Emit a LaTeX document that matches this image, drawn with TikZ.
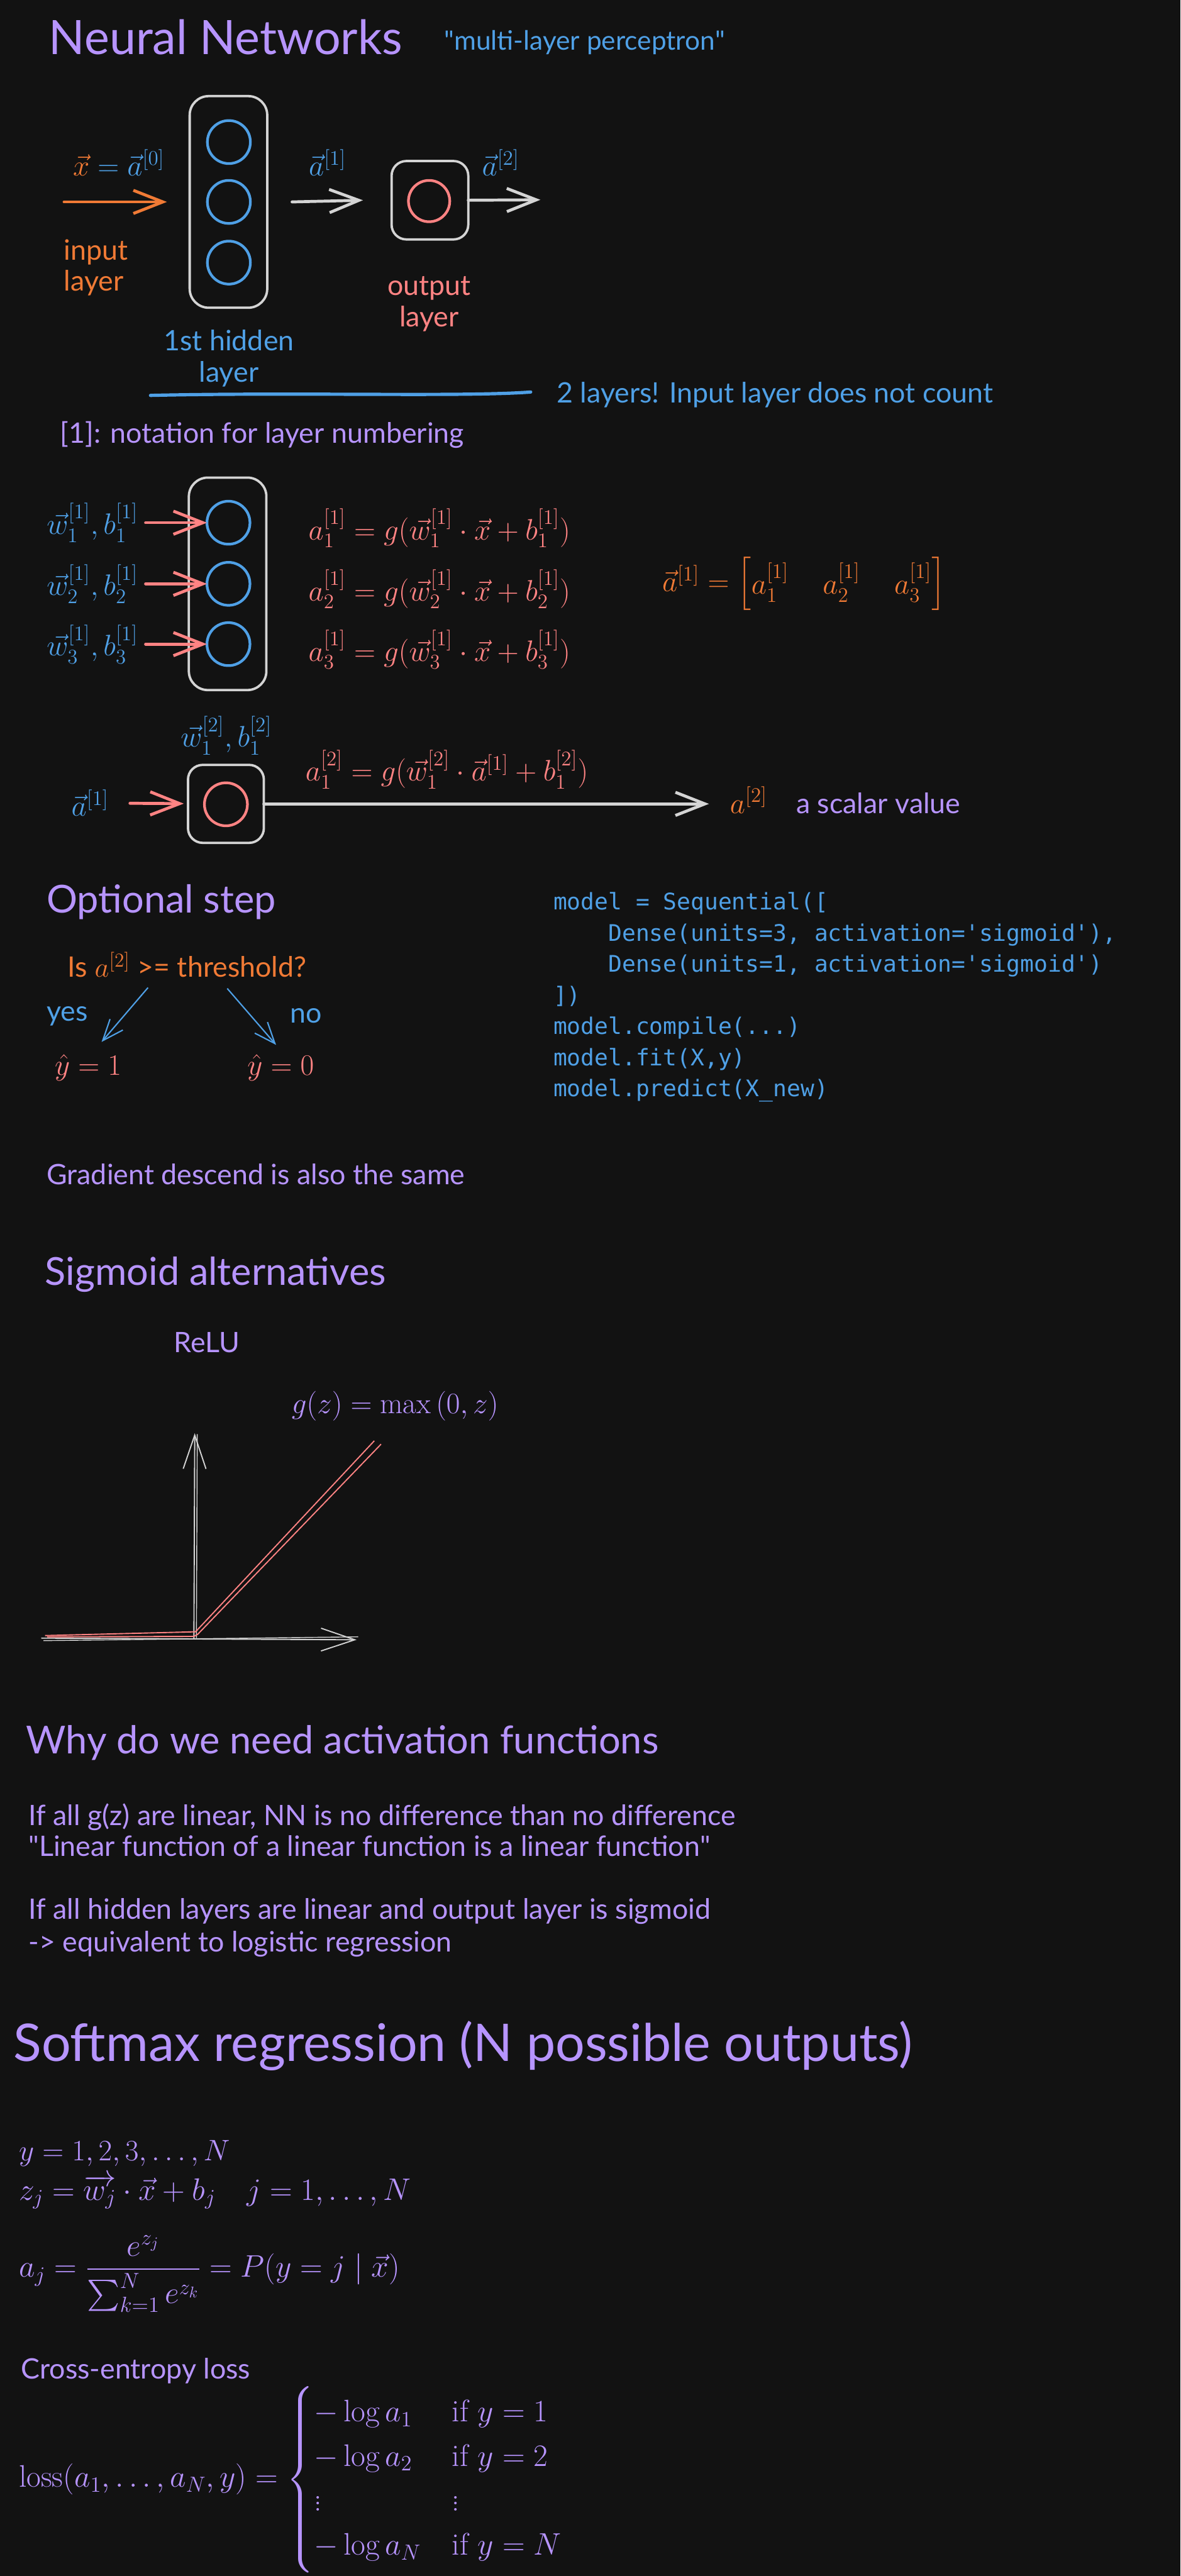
\RequirePackage{fix-cm}
\documentclass[tikz,border=0pt]{standalone}
\usepackage{amsmath, amssymb}
\usepackage{fontspec}
\setsansfont{Lato}
\setmonofont{DejaVu Sans Mono}
\usepackage{xcolor}
\usepackage{tikz}
\usetikzlibrary{arrows.meta, positioning}

\definecolor{bgdark}{HTML}{121212}
\definecolor{lav}{HTML}{B794FF}
\definecolor{sky}{HTML}{4FA0E6}
\definecolor{tang}{HTML}{F07A35}
\definecolor{salmon}{HTML}{FF8383}
\definecolor{chalk}{HTML}{D4D4D4}

\begin{document}
\begin{tikzpicture}[
  every node/.style={inner sep=0pt, outer sep=0pt},
  ttl/.style={font=\sffamily\fontsize{32}{38}\selectfont, text=lav, anchor=west},
  sec/.style={font=\sffamily\fontsize{26}{31}\selectfont, text=lav, anchor=west},
  txt/.style={font=\sffamily\fontsize{19}{21}\selectfont, anchor=west},
  mth/.style={font=\fontsize{20}{24}\selectfont, anchor=west},
  bigmth/.style={font=\fontsize{21}{25}\selectfont, anchor=west, text=lav},
  code/.style={font=\ttfamily\fontsize{15.4}{21}\selectfont, text=sky, anchor=north west, align=left},
  layerbox/.style={draw=chalk, line width=1.6pt, rounded corners=0.45cm, minimum width=1.84cm},
  neuron/.style={circle, draw=#1, line width=1.8pt, minimum size=1.02cm},
  arr/.style={-{Straight Barb[length=0.7cm, width=0.55cm]}, line width=2pt, line cap=round},
  thinarr/.style={-{Straight Barb[length=0.5cm, width=0.4cm]}, line width=0.9pt, sky},
  axis/.style={-{Straight Barb[length=0.8cm, width=0.54cm]}, line width=0.8pt, chalk}]
\useasboundingbox (0,0) rectangle (28.01,-61.11);
\fill[bgdark] (0,0) rectangle (28.01,-61.11);

% neural network overview
\node[ttl] (nn) at (1.16,-0.88) {Neural Networks};
\node[txt, text=sky, font=\sffamily\fontsize{18}{21}\selectfont] (mlp) at (10.54,-1.00) {\textquotedbl multi-layer perceptron\textquotedbl};

\node[layerbox, minimum height=5.02cm] (hid) at (5.42,-4.79) {};
\node[neuron=sky] (h1) at (5.43,-3.37) {};
\node[neuron=sky] (h2) at (5.43,-4.79) {};
\node[neuron=sky] (h3) at (5.43,-6.23) {};
\node[layerbox, minimum width=1.82cm, minimum height=1.86cm, rounded corners=0.35cm] (out) at (10.20,-4.75) {};
\node[neuron=salmon, minimum size=0.98cm] (o1) at (10.18,-4.77) {};

\coordinate (xin) at (1.52,-4.79);
\coordinate (aout) at (12.82,-4.74);
\draw[arr, tang] (xin) -- ([xshift=-0.54cm]hid.west);
\draw[arr, chalk] ([xshift=0.59cm]hid.east) -- ([xshift=-0.68cm]out.west);
\draw[arr, chalk] (out.east) -- (aout);

\node[mth, anchor=center] (x0) at (2.82,-3.86) {$\color{tang}\vec{x} \color{sky}= \vec{a}^{[0]}$};
\node[mth, anchor=center, text=sky] (a1) at (7.77,-3.86) {$\vec{a}^{[1]}$};
\node[mth, anchor=center, text=sky] (a2) at (11.88,-3.86) {$\vec{a}^{[2]}$};
\node[txt, text=tang, align=left, anchor=north west] (inlab) at (1.52,-5.68) {input\\layer};
\node[txt, text=salmon, align=center, anchor=north] (outlab) at (10.18,-6.56) {output\\layer};
\node[txt, text=sky, align=center, anchor=north] (hidlab) at (5.43,-7.83) {1st hidden\\layer};

\coordinate (ul1) at (3.57,-9.38);
\coordinate (ul2) at (12.59,-9.30);
\draw[sky, line width=2.2pt, line cap=round] (ul1) .. controls (7,-9.30) and (11,-9.42) .. (ul2);
\node[txt, text=sky] (two) at (13.21,-9.36) {2 layers! Input layer does not count};
\node[txt, text=lav] (note) at (1.43,-10.31) {[1]: notation for layer numbering};

% first layer, unit by unit
\node[layerbox, minimum height=5.04cm] (hidb) at (5.40,-13.85) {};
\foreach \i/\y in {1/-12.40, 2/-13.85, 3/-15.28} {
  \node[neuron=sky] (c\i) at (5.42,\y) {};
  \node[mth, text=sky] (w\i) at (1.11,\y) {$\vec{w}_{\i}^{[1]}, b_{\i}^{[1]}$};
  \draw[arr, salmon, shorten <=0.18cm] (w\i) -- (c\i);
  \node[mth, text=salmon] (eq\i) at (7.32,\y-0.13) {$a_{\i}^{[1]} = g(\vec{w}_{\i}^{[1]} \cdot \vec{x} + b_{\i}^{[1]})$};
}
\node[mth, text=tang] (avec) at (15.71,-13.85) {\setlength{\arraycolsep}{11.5pt}$\vec{a}^{[1]} = \begin{bmatrix} a_1^{[1]} & a_2^{[1]} & a_3^{[1]} \end{bmatrix}$};

% second layer
\node[layerbox, minimum width=1.80cm, minimum height=1.85cm, rounded corners=0.35cm] (hidc) at (5.36,-19.07) {};
\node[neuron=salmon] (oc) at (5.36,-19.08) {};
\node[mth, anchor=center, text=sky] (ain) at (2.14,-19.05) {$\vec{a}^{[1]}$};
\node[mth, anchor=center, text=sky] (wout) at (5.37,-17.45) {$\vec{w}_1^{[2]}, b_1^{[2]}$};
\node[mth, text=salmon] (eqout) at (7.25,-18.25) {$a_1^{[2]} = g(\vec{w}_1^{[2]} \cdot \vec{a}^{[1]} + b_1^{[2]})$};
\node[mth, text=tang] (atwo) at (17.32,-18.98) {$a^{[2]}$};
\node[txt, text=lav] (scal) at (18.89,-19.05) {a scalar value};
\draw[arr, salmon, shorten <=0.5cm, shorten >=0.1cm] (ain) -- (hidc);
\draw[arr, chalk, shorten >=0.5cm] (hidc.east) -- (hidc.east -| atwo.west);

% optional step
\node[sec] (opt) at (1.11,-21.40) {Optional step};
\node[txt, text=tang] (thr) at (1.61,-22.88) {Is $a^{[2]}$ >= threshold?};
\node[txt, text=sky] (yes) at (1.11,-24.10) {yes};
\node[txt, text=sky] (no) at (6.88,-24.10) {no};
\node[mth, anchor=center, text=salmon] (yhat1) at (2.09,-25.33) {$\hat{y} = 1$};
\node[mth, anchor=center, text=salmon] (yhat0) at (6.66,-25.33) {$\hat{y} = 0$};
\draw[thinarr] ([xshift=-0.93cm, yshift=-0.25cm]thr.south) -- ([xshift=0.32cm, yshift=0.30cm]yhat1.north);
\draw[thinarr] ([xshift=0.95cm, yshift=-0.27cm]thr.south) -- ([xshift=-0.11cm, yshift=0.23cm]yhat0.north);

\node[code] (keras) at (13.13,-21.17) {model = Sequential([\\
\hspace*{2.408em}Dense(units=3, activation='sigmoid'),\\
\hspace*{2.408em}Dense(units=1, activation='sigmoid')\\
])\\
model.compile(...)\\
model.fit(X,y)\\
model.predict(X\_new)};

\node[txt, text=lav] (grad) at (1.11,-27.86) {Gradient descend is also the same};

% relu
\node[sec] (sig) at (1.07,-30.24) {Sigmoid alternatives};
\node[txt, text=lav, anchor=center] (relu) at (4.91,-31.85) {ReLU};
\node[mth, text=lav] (gz) at (6.92,-33.35) {$g(z) = \max\left(0, z\right)$};
\coordinate (ytop) at (4.62,-34.00);
\coordinate (xend) at (8.46,-38.90);
\draw[axis] (4.60,-38.88) -- (ytop);
\draw[chalk, line width=0.6pt] (4.66,-38.86) -- (4.68,-34.02);
\draw[axis] (0.98,-38.86) -- (xend);
\draw[chalk, line width=0.6pt] (1.03,-38.92) -- (8.50,-38.83);
\draw[salmon, line width=0.8pt] (1.07,-38.80) -- (4.64,-38.71) -- (8.88,-34.18);
\draw[salmon, line width=0.8pt] (1.12,-38.83) -- (4.60,-38.82) -- (4.69,-38.77) -- (9.04,-34.26);

% activation functions
\node[sec] (why) at (0.62,-41.35) {Why do we need activation functions};
\node[txt, text=lav] (lin1) at (0.68,-43.10) {If all g(z) are linear, NN is no difference than no difference};
\node[txt, text=lav] (lin2) at (0.68,-43.79) {\textquotedbl Linear function of a linear function is a linear function\textquotedbl};
\node[txt, text=lav] (lin3) at (0.68,-45.34) {If all hidden layers are linear and output layer is sigmoid};
\node[txt, text=lav] (lin4) at (0.68,-46.11) {-> equivalent to logistic regression};

% softmax
\node[ttl, font=\sffamily\fontsize{35}{42}\selectfont] (soft) at (0.32,-48.54) {Softmax regression (N possible outputs)};
\node[mth, text=lav] (ys) at (0.45,-51.09) {$y = 1, 2, 3, \ldots, N$};
\node[bigmth] (zj) at (0.45,-52.00) {$z_j = \overrightarrow{w_j} \cdot \vec{x} + b_j \quad j = 1, \ldots, N$};
\node[bigmth] (aj) at (0.45,-53.94) {$a_j = \dfrac{e^{z_j}}{\sum_{k=1}^{N} e^{z_k}} = P(y = j \mid \vec{x})$};
\node[txt, text=lav] (ce) at (0.50,-56.24) {Cross-entropy loss};
\node[bigmth] (loss) at (0.45,-58.82) {$\mathrm{loss}(a_1, \ldots, a_N, y) = \begin{cases} -\log a_1 & \text{if } y = 1 \\ -\log a_2 & \text{if } y = 2 \\ \vdots & \vdots \\ -\log a_N & \text{if } y = N \end{cases}$};
\end{tikzpicture}
\end{document}
